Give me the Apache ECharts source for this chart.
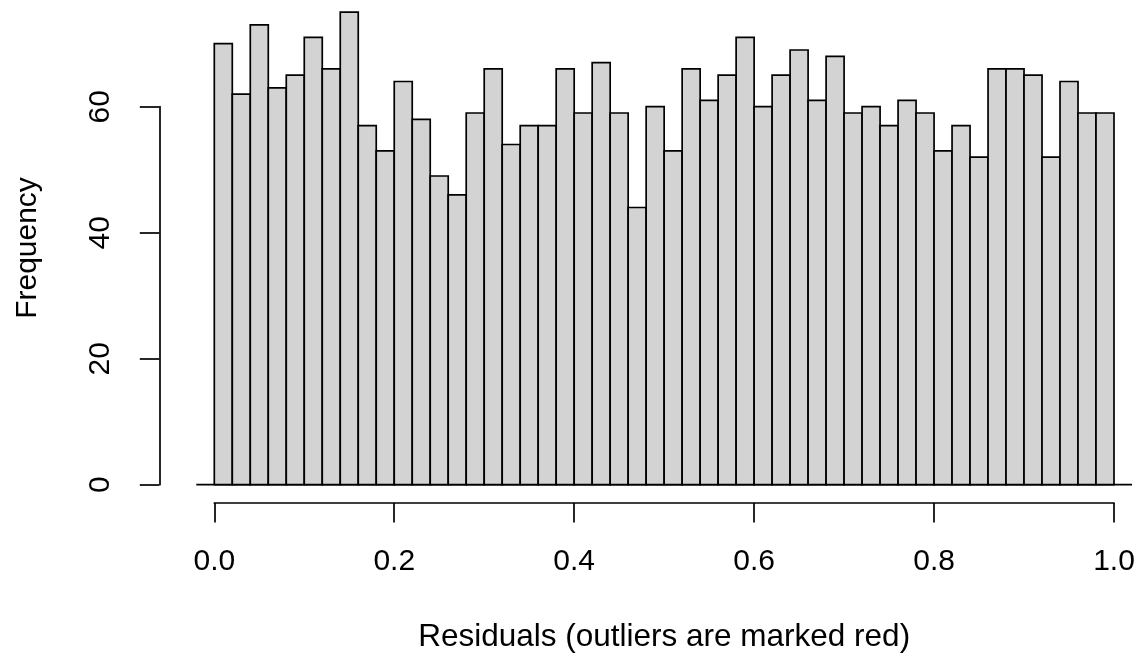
<!DOCTYPE html>
<html>
<head>
<meta charset="utf-8">
<script src="https://cdn.jsdelivr.net/npm/echarts@6/dist/echarts.min.js"></script>
<style>
html,body{margin:0;padding:0;background:#fff;}
#c{width:1140px;height:658px;}
</style>
</head>
<body>
<div id="c"></div>
<script>
// Histogram bin edges (width 0.02)
const binEdges = [0.00,0.02,0.04,0.06,0.08,0.10,0.12,0.14,0.16,0.18,
                  0.20,0.22,0.24,0.26,0.28,0.30,0.32,0.34,0.36,0.38,
                  0.40,0.42,0.44,0.46,0.48,0.50,0.52,0.54,0.56,0.58,
                  0.60,0.62,0.64,0.66,0.68,0.70,0.72,0.74,0.76,0.78,
                  0.80,0.82,0.84,0.86,0.88,0.90,0.92,0.94,0.96,0.98,1.00];
// Frequencies per bin
const counts = [70,62,73,63,65,71,66,75,57,53,
                64,58,49,46,59,66,54,57,57,66,
                59,67,59,44,60,53,66,61,65,71,
                60,65,69,61,68,59,60,57,61,59,
                53,57,52,66,66,65,52,64,59,59];
// Tick values
const xTicks = [0, 0.2, 0.4, 0.6, 0.8, 1.0];
const yTicks = [0, 20, 40, 60];
// Extent of the zero line under the bars
const baselineRange = [-0.02, 1.02];

const xTitle = 'Residuals (outliers are marked red)';
const yTitle = 'Frequency';

const histData = counts.map((c, i) => [binEdges[i], binEdges[i + 1], c]);

const FONT = '"Liberation Sans", Arial, Helvetica, sans-serif';
const chart = echarts.init(document.getElementById('c'), null, {renderer: 'canvas'});

chart.setOption({
  backgroundColor: '#ffffff',
  animation: false,
  grid: {left: 214.3, right: 26, top: 106.7, bottom: 173, containLabel: false},
  xAxis: {
    type: 'value', min: 0, max: 1, interval: 0.2,
    offset: 18.3,
    splitLine: {show: false},
    axisLine: {show: true, onZero: false, lineStyle: {color: '#000', width: 1.7}},
    axisTick: {show: true, inside: false, length: 19.5, lineStyle: {color: '#000', width: 1.7}},
    axisLabel: {show: true, margin: 44, color: '#000', fontSize: 30, fontFamily: FONT,
      formatter: v => v.toFixed(1)},
    name: xTitle, nameLocation: 'middle', nameGap: 118,
    nameTextStyle: {color: '#000', fontSize: 31.5, fontFamily: FONT}
  },
  yAxis: {
    type: 'value', min: 0, max: 60, interval: 20,
    offset: 55,
    splitLine: {show: false},
    axisLine: {show: true, onZero: false, lineStyle: {color: '#000', width: 1.7}},
    axisTick: {show: true, inside: false, length: 19.5, lineStyle: {color: '#000', width: 1.7}},
    axisLabel: {show: true, rotate: 90, margin: 44, color: '#000', fontSize: 30, fontFamily: FONT}
  },
  graphic: [{
    type: 'text', x: 28, y: 248, rotation: Math.PI / 2,
    style: {text: yTitle, fill: '#000', font: '30px ' + FONT, textAlign: 'center', textVerticalAlign: 'middle'}
  }],
  series: [{
    type: 'custom',
    clip: false,
    data: [[baselineRange[0], baselineRange[1], 0]],
    encode: {x: [0, 1], y: 2},
    renderItem: function (params, api) {
      const a = api.coord([api.value(0), api.value(2)]);
      const b = api.coord([api.value(1), api.value(2)]);
      return {type: 'line', shape: {x1: a[0], y1: a[1], x2: b[0], y2: b[1]},
        style: {stroke: '#000', lineWidth: 1.7}};
    },
    z: 1
  }, {
    type: 'custom',
    clip: false,
    data: histData,
    encode: {x: [0, 1], y: 2},
    renderItem: function (params, api) {
      const p0 = api.coord([api.value(0), api.value(2)]);
      const p1 = api.coord([api.value(1), 0]);
      return {type: 'rect',
        shape: {x: p0[0], y: p0[1], width: p1[0] - p0[0], height: p1[1] - p0[1]},
        style: {fill: '#d3d3d3', stroke: '#000', lineWidth: 1.7}};
    },
    z: 2
  }]
});
</script>
</body>
</html>
